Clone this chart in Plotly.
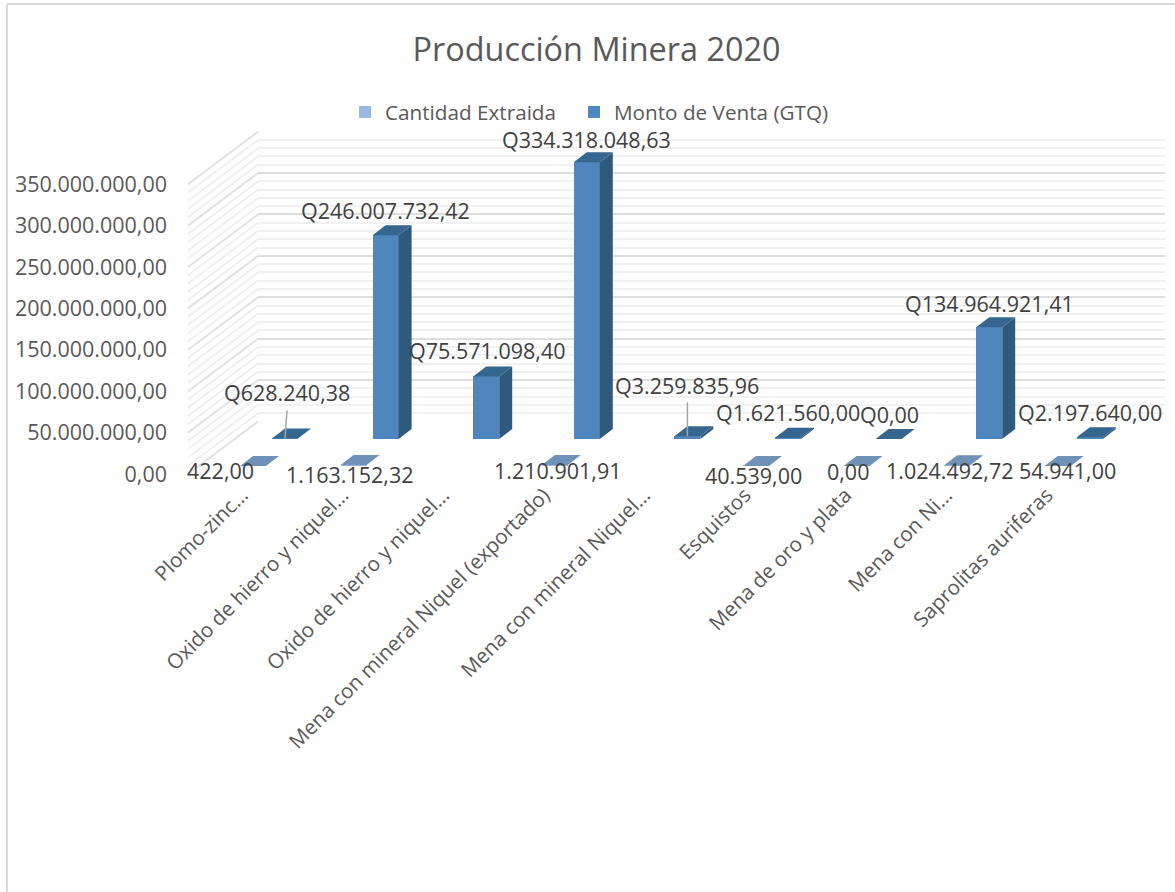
import plotly.graph_objects as go

# ---------- data ----------
categories = ["Plomo-zinc…", "Oxido de hierro y niquel…", "Oxido de hierro y niquel…",
              "Mena con mineral Niquel (exportado)", "Mena con mineral Niquel…", "Esquistos",
              "Mena de oro y plata", "Mena con Ni…", "Saprolitas auriferas"]
cantidad = [422.00, 1163152.32, None, 1210901.91, None, 40539.00, 0.00, 1024492.72, 54941.00]
monto = [628240.38, 246007732.42, 75571098.40, 334318048.63, 3259835.96,
         1621560.00, 0.00, 134964921.41, 2197640.00]
y_ticks = [0, 50e6, 100e6, 150e6, 200e6, 250e6, 300e6, 350e6]
y_tick_labels = ["0,00", "50.000.000,00", "100.000.000,00", "150.000.000,00", "200.000.000,00",
                 "250.000.000,00", "300.000.000,00", "350.000.000,00"]

# ---------- geometry (pixels) ----------
W, H = 1175, 892
S = 41.4 / 50e6              # pixels per unit value
STEP = 100.6                 # pixels per category
X0 = 285                     # pixel of category 0 (rear series)
BAR_W = 26 / STEP
DX, DY = 13 / STEP, 10 / S   # bar depth
FRONT_SHIFT = -32 / STEP     # front series shift
TICK_SHIFT = -43 / STEP      # category label anchor
Y_WALL, Y_FRONT_WALL, Y_REAR, Y_FRONT = 421.5, 474, 439, 466
WALL_L, WALL_F, WALL_R = 258, 188, 1165

def yrange(p):
    return [-(H - p) / S, p / S]

def xpx(p):
    return (p - X0) / STEP

BLUE, TOP, SIDE = "#4F86BE", "#35668F", "#2E5A7E"
LIGHT, LIGHT_TOP = "#95B8E0", "#7192B8"
TEXT = "#595959"
LABEL = "#404040"
FONT = "Open Sans"
FS = 21.5


def es(v, prefix=""):
    return prefix + f"{v:,.2f}".replace(",", "_").replace(".", ",").replace("_", ".")


def faces(values, shift):
    tx, ty, sx, sy = [], [], [], []
    for i, v in enumerate(values):
        if v is None:
            continue
        a = i + shift - BAR_W / 2
        b = i + shift + BAR_W / 2
        tx += [a, b, b + DX, a + DX, a, None]
        ty += [v, v, v + DY, v + DY, v, None]
        sx += [b, b + DX, b + DX, b, b, None]
        sy += [0, DY, v + DY, v, 0, None]
    return tx, ty, sx, sy


fig = go.Figure()

# side wall hatching (runs from the front of the wall to the rear)
minor_x, minor_y, major_x, major_y = [], [], [], []
for k in range(0, 36):
    v = k * 10e6
    xs, ys = (major_x, major_y) if k % 5 == 0 else (minor_x, minor_y)
    xs += [xpx(WALL_F), xpx(WALL_L), None]
    ys += [v, v + (Y_FRONT_WALL - Y_WALL) / S, None]
fig.add_trace(go.Scatter(x=minor_x, y=minor_y, xaxis="x2", yaxis="y2", mode="lines",
                         line=dict(color="#F0F0F0", width=2), showlegend=False, hoverinfo="skip"))
fig.add_trace(go.Scatter(x=major_x, y=major_y, xaxis="x2", yaxis="y2", mode="lines",
                         line=dict(color="#E2E2E2", width=2), showlegend=False, hoverinfo="skip"))

# rear-wall axis: only carries the gridlines
fig.add_trace(go.Scatter(x=[0, 1], y=[0, 0], xaxis="x", yaxis="y", mode="lines",
                         line=dict(width=0), showlegend=False, hoverinfo="skip"))

# series
fig.add_trace(go.Bar(x=[i + FRONT_SHIFT for i in range(9)], y=cantidad, width=BAR_W, name="Cantidad Extraida",
                     marker=dict(color=LIGHT, line=dict(width=0)), xaxis="x2", yaxis="y4", legend="legend"))
fig.add_trace(go.Bar(x=list(range(9)), y=monto, width=BAR_W, name="Monto de Venta (GTQ)",
                     marker=dict(color=BLUE, line=dict(width=0)), xaxis="x2", yaxis="y3", legend="legend2"))

tx, ty, sx, sy = faces(cantidad, FRONT_SHIFT)
fig.add_trace(go.Scatter(x=tx, y=ty, xaxis="x2", yaxis="y4", mode="lines", fill="toself", fillcolor=LIGHT_TOP,
                         line=dict(width=0), showlegend=False, hoverinfo="skip"))
tx, ty, sx, sy = faces(monto, 0)
fig.add_trace(go.Scatter(x=sx, y=sy, xaxis="x2", yaxis="y3", mode="lines", fill="toself", fillcolor=SIDE,
                         line=dict(width=0), showlegend=False, hoverinfo="skip"))
fig.add_trace(go.Scatter(x=tx, y=ty, xaxis="x2", yaxis="y3", mode="lines", fill="toself", fillcolor=TOP,
                         line=dict(width=0), showlegend=False, hoverinfo="skip"))

# data labels, offset from the top of their bar
rear_off = [(2, 45.5), (0, 25), (1, 25.5), (0, 23), (0, 51), (0, 25), (1, 25), (0, 23.5), (0, 25)]
front_off = [(-33, -4), (-4, -9), None, (3, -5), None, (-3, -10), (-9, -5), (-7, -5), (10, -5)]
ann = []
for i, v in enumerate(monto):
    ann.append(dict(x=i, y=v, xref="x2", yref="y3", text=es(v, "Q"), showarrow=False,
                    xshift=rear_off[i][0], yshift=rear_off[i][1],
                    font=dict(family=FONT, size=FS, color=LABEL)))
for i, v in enumerate(cantidad):
    if v is None:
        continue
    ann.append(dict(x=i + FRONT_SHIFT, y=v, xref="x2", yref="y4", text=es(v), showarrow=False,
                    xshift=front_off[i][0], yshift=front_off[i][1],
                    font=dict(family=FONT, size=FS, color=LABEL)))

shapes = [
    dict(type="line", xref="paper", yref="paper", x0=7 / W, x1=7 / W, y0=0, y1=1 - 4 / H,
         line=dict(color="#D9D9D9", width=2)),
    dict(type="line", xref="paper", yref="paper", x0=7 / W, x1=1, y0=1 - 4 / H, y1=1 - 4 / H,
         line=dict(color="#D9D9D9", width=2)),
]
# leader lines for the two labels that sit far above their bar
for i, top_off, x_off in [(0, 28, 2), (4, 34, 0)]:
    shapes.append(dict(type="line", xref="x2", yref="y3", x0=i, y0=monto[i],
                       x1=i + x_off / STEP, y1=monto[i] + top_off / S,
                       line=dict(color="#A6A6A6", width=1.5)))

legend_style = dict(orientation="h", xanchor="left", y=1 - 112 / H, yanchor="middle",
                    font=dict(family=FONT, size=20.7, color=TEXT), bgcolor="rgba(0,0,0,0)")

fig.update_layout(
    width=W, height=H, margin=dict(l=0, r=0, t=0, b=0, autoexpand=False),
    paper_bgcolor="white", plot_bgcolor="rgba(0,0,0,0)",
    barmode="overlay", bargap=0,
    title=dict(text="Producción Minera 2020", x=596.5 / W, xanchor="center", y=1 - 50 / H, yanchor="middle",
               font=dict(family=FONT, size=32.4, color=TEXT)),
    legend=dict(x=345 / W, **legend_style),
    legend2=dict(x=574 / W, **legend_style),
    font=dict(family=FONT, color=TEXT),
    xaxis=dict(domain=[WALL_L / W, WALL_R / W], range=[0, 1], visible=False),
    yaxis=dict(domain=[1 - Y_WALL / H, 1 - 131.5 / H], range=[0, 350e6], anchor="x",
               showticklabels=False, ticks="", zeroline=False, showline=False,
               showgrid=True, gridcolor="#DEDEDE", gridwidth=2, tick0=0, dtick=50e6,
               minor=dict(showgrid=True, gridcolor="#F1F1F1", gridwidth=2, dtick=10e6, tick0=0)),
    xaxis2=dict(domain=[0, 1], range=[xpx(0), xpx(W)], anchor="free", position=1 - 478 / H,
                tickmode="array", tickvals=[i + TICK_SHIFT for i in range(9)], ticktext=categories,
                tickangle=-45, ticks="", showgrid=False, zeroline=False, showline=False,
                tickfont=dict(family=FONT, size=20.6, color=TEXT)),
    yaxis2=dict(domain=[0, 1], range=yrange(Y_FRONT_WALL), anchor="free", position=167 / W,
                tickmode="array", tickvals=y_ticks, ticktext=y_tick_labels, ticks="",
                showgrid=False, zeroline=False, showline=False,
                tickfont=dict(family=FONT, size=FS, color=TEXT)),
    yaxis3=dict(domain=[0, 1], range=yrange(Y_REAR), overlaying="y2", anchor="x2", visible=False),
    yaxis4=dict(domain=[0, 1], range=yrange(Y_FRONT), overlaying="y2", anchor="x2", visible=False),
    annotations=ann, shapes=shapes,
)

fig.write_html("out.html", config={"displayModeBar": False},
               post_script="document.body.style.margin='0';")
